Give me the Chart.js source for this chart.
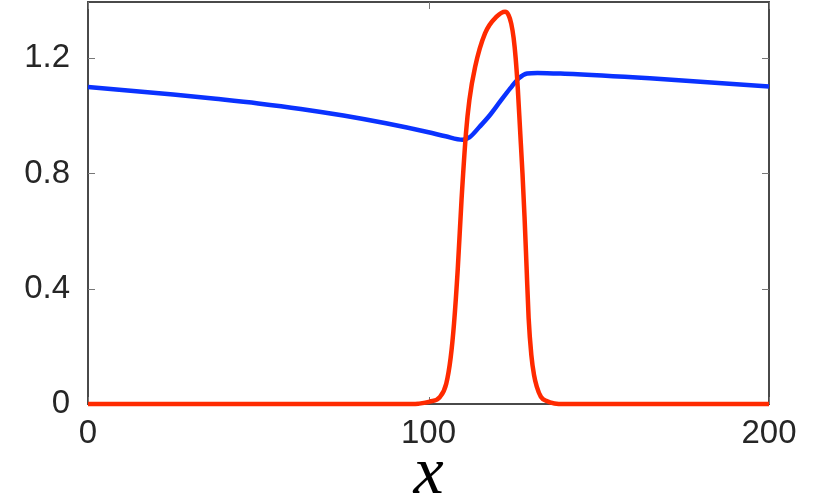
<!DOCTYPE html>
<html>
<head>
<meta charset="utf-8">
<script src="https://cdn.jsdelivr.net/npm/chart.js@4"></script>
<style>
  html, body { margin: 0; padding: 0; background: #fff; }
  #wrap { width: 830px; height: 502px; }
</style>
</head>
<body>
<div id="wrap"><canvas id="chart" width="830" height="502"></canvas></div>
<script>
// blue curve
const blueX = [0, 12.5, 25, 37.5, 50, 62.5, 75, 87.5, 100, 105, 110, 112, 115, 118, 121, 124, 126.5, 129, 132, 140, 165, 200];
const blueY = [1.100, 1.087, 1.074, 1.059, 1.043, 1.024, 1.001, 0.974, 0.943, 0.929, 0.917, 0.925, 0.962, 1.002, 1.049, 1.095, 1.130, 1.147, 1.149, 1.146, 1.130, 1.102];

// red pulse
const redX = [0, 95, 97, 100.4, 103.4, 105.2, 106.5, 107.5, 108.6, 109.7, 111.0, 112.0, 113.7, 116.6, 120.0, 122.5, 123.5, 124.3, 125.0, 125.6, 126.2, 126.9, 127.6, 128.2, 128.8, 129.4, 130.2, 131.0, 131.8, 133.0, 134.7, 137, 140, 200];
const redY = [0, 0, 0.001, 0.008, 0.025, 0.070, 0.160, 0.280, 0.470, 0.708, 0.939, 1.054, 1.170, 1.286, 1.344, 1.361, 1.350, 1.320, 1.270, 1.200, 1.100, 0.950, 0.800, 0.650, 0.476, 0.300, 0.170, 0.100, 0.060, 0.025, 0.010, 0.002, 0, 0];

const xTicks = [0, 100, 200];
const yTicks = [0, 0.4, 0.8, 1.2];

const toPoints = (xs, ys) => xs.map((x, i) => ({ x: x, y: ys[i] }));

// box frame + inward ticks like matlab
const framePlugin = {
    id: 'frame',
    beforeDatasetsDraw(chart) {
        const { ctx, chartArea: a, scales } = chart;
        ctx.save();
        ctx.strokeStyle = '#4a4a4a';
        ctx.lineWidth = 2;
        ctx.strokeRect(a.left, a.top, a.right - a.left, a.bottom - a.top);
        ctx.lineWidth = 1;
        ctx.strokeStyle = '#777';
        const len = 7;
        yTicks.forEach(v => {
            const y = Math.round(scales.y.getPixelForValue(v)) + 0.5;
            ctx.beginPath();
            ctx.moveTo(a.left, y); ctx.lineTo(a.left + len, y);
            ctx.moveTo(a.right, y); ctx.lineTo(a.right - len, y);
            ctx.stroke();
        });
        xTicks.forEach(v => {
            const x = Math.round(scales.x.getPixelForValue(v)) + 0.5;
            ctx.beginPath();
            ctx.moveTo(x, a.bottom); ctx.lineTo(x, a.bottom - len);
            ctx.moveTo(x, a.top); ctx.lineTo(x, a.top + len);
            ctx.stroke();
        });
        ctx.restore();
    }
};

new Chart(document.getElementById('chart'), {
    type: 'line',
    data: {
        datasets: [
            {
                label: 'red',
                data: toPoints(redX, redY),
                borderColor: '#ff2a00',
                borderWidth: 4.5,
                pointRadius: 0,
                cubicInterpolationMode: 'monotone',
                clip: false,
                order: 0
            },
            {
                label: 'blue',
                data: toPoints(blueX, blueY),
                borderColor: '#0a32ff',
                borderWidth: 4.5,
                pointRadius: 0,
                cubicInterpolationMode: 'monotone',
                clip: false,
                order: 1
            }
        ]
    },
    options: {
        responsive: false,
        animation: false,
        layout: { padding: { top: 2, right: 61, left: 0, bottom: 0 } },
        plugins: { legend: { display: false }, tooltip: { enabled: false } },
        scales: {
            x: {
                type: 'linear',
                min: 0,
                max: 200,
                afterBuildTicks: (scale) => { scale.ticks = xTicks.map(v => ({ value: v })); },
                afterFit: (scale) => { scale.height = 98; },
                grid: { display: false, drawTicks: false },
                border: { display: false },
                ticks: {
                    padding: 10,
                    maxRotation: 0,
                    color: '#262626',
                    font: { family: 'Liberation Sans', size: 33 }
                },
                title: {
                    display: true,
                    text: 'x',
                    color: '#000',
                    padding: { top: 0, bottom: 0 },
                    font: { family: 'Liberation Serif', style: 'italic', size: 68, lineHeight: 0.8 }
                }
            },
            y: {
                min: 0,
                max: 1.395,
                afterBuildTicks: (scale) => { scale.ticks = yTicks.map(v => ({ value: v })); },
                afterFit: (scale) => {
                    scale.width = 88;
                    // no extra room for the top label
                    scale.paddingTop = 0;
                    scale.paddingBottom = 0;
                },
                grid: { display: false, drawTicks: false },
                border: { display: false },
                ticks: {
                    padding: 18,
                    color: '#262626',
                    font: { family: 'Liberation Sans', size: 33 },
                    callback: (v) => v === 0 ? '0' : v.toFixed(1)
                }
            }
        }
    },
    plugins: [framePlugin]
});
</script>
</body>
</html>
